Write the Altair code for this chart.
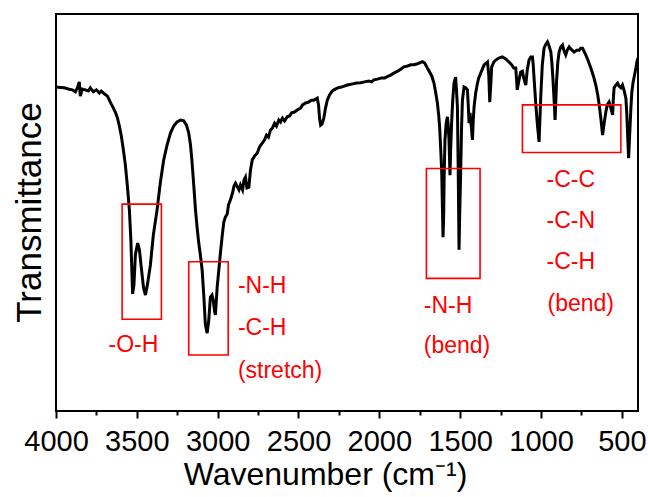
import altair as alt
import pandas as pd

# ---- spectrum ----
wavenumber = [4000, 3973, 3949, 3924, 3899, 3880, 3868, 3856, 3850, 3837, 3819, 3800, 3788, 3769, 3750,
              3732, 3720, 3701, 3682, 3670, 3658, 3645, 3633, 3620, 3608, 3596, 3583, 3571, 3559, 3546,
              3537, 3531, 3526, 3518, 3509, 3495, 3484, 3472, 3459, 3447, 3435, 3416, 3398, 3375, 3354,
              3334, 3313, 3292, 3272, 3251, 3230, 3210, 3193, 3179, 3168, 3158, 3148, 3137, 3127, 3117,
              3107, 3096, 3086, 3076, 3065, 3055, 3045, 3035, 3028, 3020, 3014, 3003, 2993, 2983, 2972,
              2962, 2952, 2941, 2933, 2921, 2908, 2899, 2890, 2877, 2868, 2859, 2846, 2837, 2828, 2819,
              2807, 2797, 2786, 2772, 2755, 2741, 2724, 2710, 2698, 2686, 2673, 2661, 2648, 2636, 2622,
              2611, 2599, 2586, 2570, 2555, 2543, 2525, 2508, 2487, 2475, 2456, 2438, 2419, 2405, 2384,
              2376, 2370, 2363, 2354, 2343, 2333, 2322, 2308, 2295, 2281, 2258, 2234, 2198, 2165, 2141,
              2116, 2091, 2066, 2048, 2034, 2011, 1986, 1967, 1951, 1930, 1910, 1887, 1868, 1848, 1825,
              1806, 1786, 1769, 1751, 1734, 1720, 1703, 1689, 1676, 1662, 1651, 1641, 1633, 1627, 1620,
              1614, 1610, 1606, 1602, 1599, 1594, 1587, 1579, 1574, 1569, 1563, 1559, 1553, 1546, 1538,
              1528, 1523, 1517, 1512, 1507, 1503, 1497, 1491, 1486, 1476, 1466, 1455, 1450, 1445, 1439,
              1432, 1424, 1419, 1414, 1404, 1393, 1385, 1373, 1352, 1331, 1323, 1317, 1311, 1305, 1292,
              1280, 1261, 1239, 1218, 1198, 1181, 1169, 1156, 1147, 1136, 1125, 1115, 1107, 1094, 1085,
              1074, 1063, 1053, 1048, 1043, 1032, 1022, 1012, 1008, 1001, 992, 981, 970, 960, 952,
              939, 933, 925, 919, 913, 908, 904, 896, 888, 878, 867, 859, 847, 837, 826,
              816, 795, 779, 764, 754, 743, 735, 723, 710, 692, 676, 661, 649, 640, 630,
              619, 611, 599, 590, 579, 568, 557, 553, 548, 537, 526, 518, 506, 496, 487,
              475, 469, 463, 458, 453, 444, 438, 430, 419, 413, 407, 401]
transmittance = [81.6, 81.5, 81.4, 81.1, 80.9, 80.4, 81.4, 82.9, 79.3, 81.1, 80.9, 80.6, 81.4, 80.4, 80.9,
                 80.1, 80.6, 79.9, 79.3, 78.3, 77.3, 76.3, 75.3, 73.8, 71.8, 69.3, 65.7, 62.0, 56.9, 50.6,
                 43.1, 35.5, 29.5, 31.7, 39.3, 42.3, 40.6, 36.0, 31.2, 29.2, 31.7, 36.8, 44.3, 50.6, 57.7,
                 63.2, 67.0, 70.0, 71.8, 72.8, 73.3, 73.1, 72.0, 70.0, 67.0, 62.5, 56.9, 50.6, 46.1, 42.3,
                 39.3, 35.5, 29.2, 21.7, 19.6, 22.9, 28.7, 29.2, 28.0, 25.4, 24.2, 31.2, 35.5, 39.8, 44.1,
                 47.6, 48.9, 49.6, 51.9, 53.2, 54.9, 56.7, 57.4, 56.4, 55.7, 56.9, 55.7, 58.2, 58.9, 56.2,
                 56.4, 60.7, 63.2, 64.2, 65.0, 66.5, 67.5, 68.3, 69.5, 69.0, 70.8, 71.3, 72.5, 71.8, 73.3,
                 72.8, 73.8, 73.1, 74.1, 74.3, 75.1, 75.3, 75.8, 76.3, 77.1, 77.6, 77.8, 78.3, 78.3, 78.8,
                 77.1, 73.8, 72.0, 72.3, 73.8, 76.3, 78.3, 79.6, 80.4, 80.9, 81.4, 81.6, 82.1, 82.4, 82.6,
                 82.7, 82.9, 83.1, 82.9, 83.4, 83.6, 83.9, 83.9, 84.2, 84.6, 85.1, 85.6, 86.1, 86.7, 86.9,
                 87.2, 87.2, 87.4, 87.7, 88.0, 87.7, 86.4, 85.4, 84.4, 82.6, 80.1, 77.6, 74.6, 71.5, 65.7,
                 60.0, 51.9, 43.8, 49.4, 59.4, 68.3, 72.3, 74.1, 72.0, 68.3, 59.4, 65.7, 72.5, 78.3, 82.6,
                 84.1, 80.9, 76.6, 60.7, 40.6, 49.4, 60.0, 72.0, 78.3, 81.6, 81.4, 80.9, 77.1, 72.5, 75.1,
                 72.0, 68.3, 73.3, 76.6, 80.1, 82.6, 83.9, 85.1, 87.2, 87.9, 84.6, 77.8, 82.1, 86.7, 87.9,
                 88.4, 88.9, 89.2, 88.7, 87.9, 87.2, 86.4, 86.4, 80.9, 83.4, 85.4, 85.6, 83.9, 82.1, 85.9,
                 88.4, 89.2, 89.2, 87.2, 83.9, 77.1, 72.0, 67.8, 72.0, 79.6, 87.2, 91.4, 92.4, 93.0, 92.2,
                 90.4, 87.9, 82.9, 78.3, 73.3, 78.3, 82.9, 87.9, 90.4, 91.7, 92.2, 90.9, 89.7, 90.9, 91.7,
                 91.2, 90.4, 90.9, 90.9, 91.4, 91.4, 90.7, 89.7, 88.4, 86.4, 84.4, 82.1, 79.6, 77.1, 73.8,
                 69.5, 72.0, 75.3, 77.1, 77.8, 76.3, 74.6, 78.3, 81.4, 82.1, 82.6, 81.9, 81.4, 82.1, 80.9,
                 78.8, 74.6, 68.3, 63.7, 68.3, 76.3, 80.4, 82.9, 85.1, 86.4, 87.9, 88.9]

# ---- annotation boxes ----
box_x1 = [3591, 3179, 1709, 1115]
box_x2 = [3348, 2935, 1377, 506]
box_y1 = [52.1, 37.6, 61.1, 77.1]
box_y2 = [23.1, 14.1, 33.4, 65.1]

# ---- annotation labels ----
label_text = ["-O-H", "-N-H", "-C-H", "(stretch)", "-N-H", "(bend)", "-C-C", "-C-N", "-C-H", "(bend)"]
label_x = [3675, 2875, 2875, 2875, 1725, 1725, 966, 966, 966, 960]
label_y = [14.9, 29.6, 19.1, 8.3, 24.8, 14.7, 56.4, 46.0, 35.7, 25.2]

tick_values = [4000, 3750, 3500, 3250, 3000, 2750, 2500, 2250, 2000, 1750, 1500, 1250, 1000, 750, 500]

FONT = "Liberation Sans"

spec = pd.DataFrame({"wn": wavenumber, "T": transmittance})
boxes = pd.DataFrame({"x1": box_x1, "x2": box_x2, "y1": box_y1, "y2": box_y2})
labels = pd.DataFrame({"text": label_text, "x": label_x, "y": label_y})

xscale = alt.Scale(domain=[4000, 400], nice=False, zero=False)
yscale = alt.Scale(domain=[0, 100], nice=False, zero=False)

xaxis = alt.Axis(
    title="Wavenumber (cm⁻¹)",
    values=tick_values,
    format="d",
    labelExpr="datum.value % 500 === 0 ? datum.label : ''",
    tickSize=alt.condition("datum.value % 500 === 0", alt.value(7), alt.value(4)),
    tickWidth=2,
    tickColor="black",
    domain=False,
    grid=False,
    labelFont=FONT,
    labelFontSize=29,
    labelColor="black",
    labelPadding=9,
    labelFlush=False,
    labelOverlap=False,
    titleFont=FONT,
    titleFontSize=32,
    titleFontWeight="normal",
    titleColor="black",
    titleX=269,
    titleY=73,
    titleAlign="center",
    titleBaseline="alphabetic",
)

yaxis = alt.Axis(
    title="Transmittance",
    ticks=False,
    labels=False,
    domain=False,
    grid=False,
    titleFont=FONT,
    titleFontSize=35,
    titleFontWeight="normal",
    titleColor="black",
    titleAngle=270,
    titleX=-16,
    titleY=198,
    titleAlign="center",
    titleBaseline="alphabetic",
)

line = alt.Chart(spec).mark_line(color="black", strokeWidth=3, clip=True).encode(
    x=alt.X("wn:Q", scale=xscale, axis=xaxis),
    y=alt.Y("T:Q", scale=yscale, axis=yaxis),
)

rects = alt.Chart(boxes).mark_rect(fillOpacity=0, stroke="#ff0000", strokeWidth=1.6).encode(
    x=alt.X("x1:Q", scale=xscale),
    x2="x2:Q",
    y=alt.Y("y1:Q", scale=yscale),
    y2="y2:Q",
)

texts = alt.Chart(labels).mark_text(
    align="left", baseline="alphabetic", color="#ff0000", font=FONT, fontSize=23
).encode(
    x=alt.X("x:Q", scale=xscale),
    y=alt.Y("y:Q", scale=yscale),
    text="text:N",
)

chart = alt.layer(line, rects, texts).properties(
    width=582,
    height=397,
    autosize="none",
    padding={"left": 56, "top": 14, "right": 10, "bottom": 86},
    background="white",
).configure_view(stroke="black", strokeWidth=2)

chart.save("out.html", embed_options={"renderer": "svg", "actions": False})
